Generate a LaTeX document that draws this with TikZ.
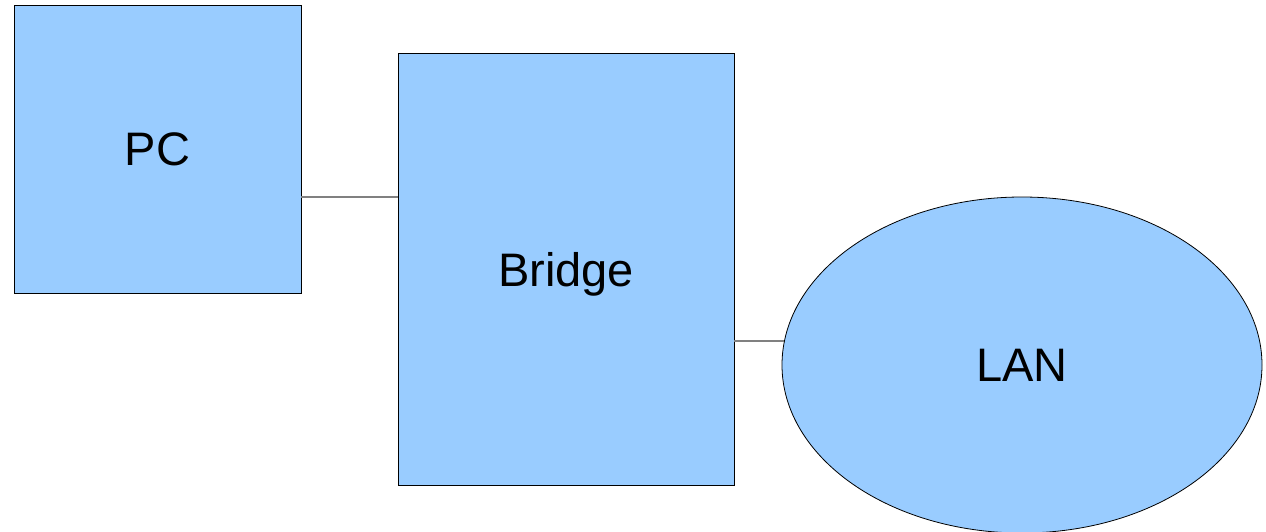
\documentclass[tikz,border=0pt]{standalone}
\usepackage{fontspec}
\setmainfont{Liberation Sans}
\usetikzlibrary{shapes.geometric}
\definecolor{boxfill}{HTML}{99CCFF}
\definecolor{linkgray}{HTML}{808080}
\begin{document}
\begin{tikzpicture}[x=1pt,y=-1pt,
  unit/.style={draw=black,fill=boxfill,line width=0.8pt,inner sep=0pt,
    text depth=0pt,font=\fontsize{47}{56}\selectfont},
  link/.style={draw=linkgray,line width=1.2pt}]
  \useasboundingbox (0,0) rectangle (1266,532);
  % computer
  \node[unit,minimum width=287pt,minimum height=288pt] (pc) at (157.5,149) {PC};
  % bridge
  \node[unit,minimum width=336pt,minimum height=432pt] (bridge) at (566,269) {Bridge};
  % network cloud
  \node[unit,ellipse,minimum width=480pt,minimum height=336pt] (lan) at (1022,365) {LAN};
  \draw[link] (pc.east |- 0,197) -- (bridge.west |- 0,197);
  \draw[link] (bridge.east |- 0,341) -- (784,341);
\end{tikzpicture}
\end{document}
